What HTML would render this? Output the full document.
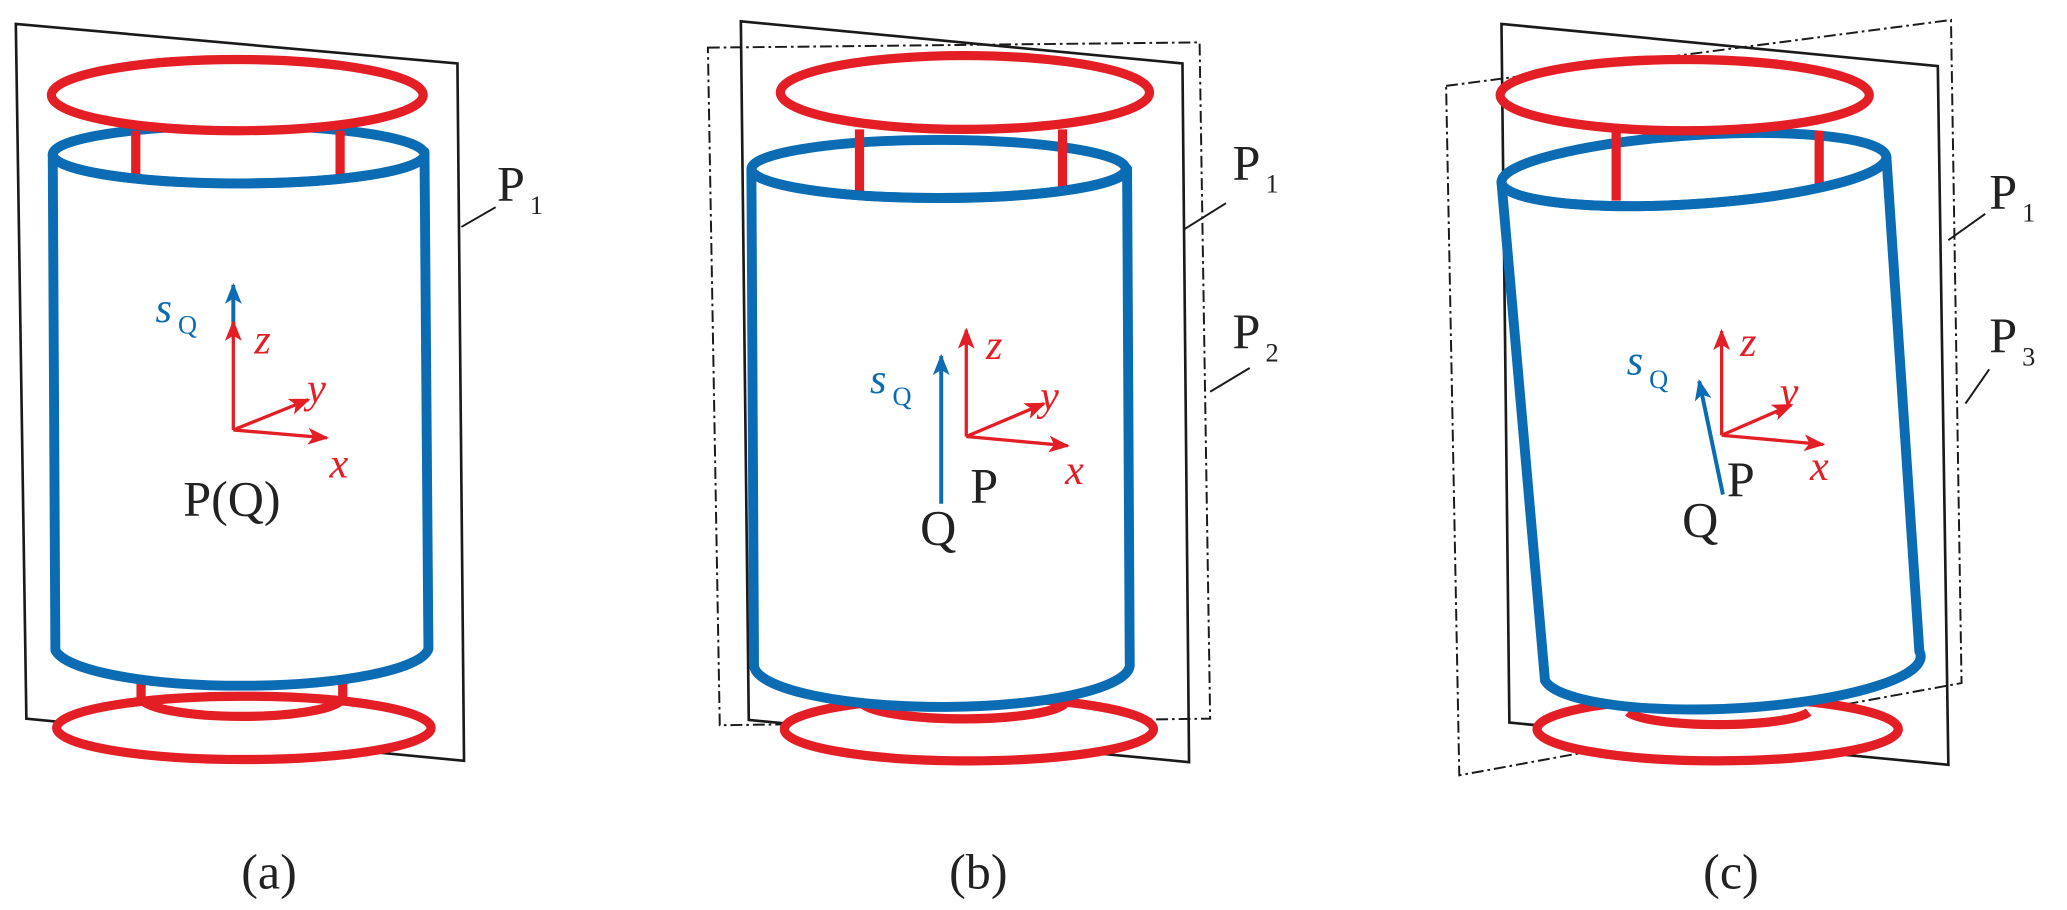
<!DOCTYPE html>
<html><head><style>html,body{margin:0;padding:0;background:#fff}svg{display:block}svg text{font-family:"Liberation Serif","DejaVu Serif",serif}</style></head>
<body>
<svg width="2067" height="910" viewBox="0 0 1568 690" xmlns="http://www.w3.org/2000/svg">
<defs>
<marker id="ar" viewBox="0 0 10 10" refX="9" refY="5" markerWidth="16" markerHeight="16" orient="auto" markerUnits="userSpaceOnUse"><path d="M0,1 L10,5 L0,9 L2.5,5z" fill="#e31e24"/></marker>
<marker id="ab" viewBox="0 0 10 10" refX="9" refY="5" markerWidth="16" markerHeight="16" orient="auto" markerUnits="userSpaceOnUse"><path d="M0,1 L10,5 L0,9 L2.5,5z" fill="#0b6cb3"/></marker>
</defs>
<style>
.pl{fill:none;stroke:#1a1a1a;stroke-width:2}
.dd{fill:none;stroke:#1a1a1a;stroke-width:1.5;stroke-dasharray:9 3 2 3}
.r{fill:none;stroke:#e31e24;stroke-width:7}
.rw{fill:#fff;stroke:#e31e24;stroke-width:7}
.b{fill:none;stroke:#0b6cb3;stroke-width:7.5;stroke-linejoin:round;stroke-linecap:round}
.wf{fill:#fff;stroke:none}
.ax{stroke:#e31e24;stroke-width:2.5;fill:none}
.sq{stroke:#0b6cb3;stroke-width:3;fill:none}
.lr{fill:#e31e24;font-style:italic;font-size:32px}
.lb{fill:#0b6cb3;font-style:italic;font-size:32px}
.lk{fill:#222;font-size:38px}
.ld{stroke:#1a1a1a;stroke-width:1.5}
</style>

<!-- Panel a -->
<polygon class="pl" points="12,18 347,48 352,577 20,545"/>
<ellipse class="rw" cx="185" cy="552" rx="142" ry="24"/>
<path class="r" d="M107,518 L107,530 A77,15 0 0 0 260,530 L260,518"/>
<path class="wf" d="M40,117 L42,493 A142,30 0 0 0 325,492 L322,115 Z"/>
<path class="b" d="M40,117 L42,493 A142,30 0 0 0 325,492 L322,115"/>
<ellipse class="b" cx="181" cy="117" rx="141" ry="22"/>
<ellipse class="rw" cx="180" cy="72" rx="141" ry="27"/>
<line class="r" x1="103" y1="99" x2="103" y2="138"/><line class="r" x1="258" y1="99" x2="258" y2="136"/>
<path class="b" d="M40,117 A141,22 0 0 0 322,117"/>
<line class="sq" x1="177" y1="250" x2="177" y2="216" marker-end="url(#ab)"/>
<line class="ax" x1="177" y1="326" x2="177" y2="244" marker-end="url(#ar)"/>
<line class="ax" x1="177" y1="326" x2="234" y2="303" marker-end="url(#ar)"/>
<line class="ax" x1="177" y1="326" x2="248" y2="332" marker-end="url(#ar)"/>
<text class="lb" x="118" y="244">s</text><text x="135" y="253" fill="#0b6cb3" font-size="20">Q</text>
<text class="lr" x="193" y="268">z</text><text class="lr" x="233" y="305">y</text><text class="lr" x="250" y="362">x</text>
<text class="lk" x="139" y="391">P(Q)</text>
<line class="ld" x1="350" y1="172" x2="376" y2="157"/>
<text class="lk" x="377" y="152">P</text><text x="402" y="162" fill="#222" font-size="20">1</text>
<text class="lk" x="183" y="674">(a)</text>

<!-- Panel b -->
<polygon class="pl" points="562,16 897,48 902,578 568,546"/>
<polygon class="dd" points="537,36 910,32 918,545 546,550"/>
<ellipse class="rw" cx="735" cy="553" rx="140" ry="24"/>
<path class="r" d="M656,528 L656,535 A78,14 0 0 0 806,535 L806,528"/>
<path class="wf" d="M570,128 L572,505 A142,32 0 0 0 857,503 L855,128 Z"/>
<path class="b" d="M570,128 L572,505 A142,32 0 0 0 857,503 L855,128"/>
<ellipse class="b" cx="712" cy="128" rx="142" ry="22"/>
<ellipse class="rw" cx="732" cy="70" rx="140" ry="28"/>
<line class="r" x1="652" y1="98" x2="652" y2="150"/><line class="r" x1="806" y1="98" x2="806" y2="146"/>
<path class="b" d="M570,128 A142,22 0 0 0 855,128"/>
<line class="sq" x1="714" y1="382" x2="714" y2="270" marker-end="url(#ab)"/>
<line class="ax" x1="733" y1="331" x2="733" y2="250" marker-end="url(#ar)"/>
<line class="ax" x1="733" y1="331" x2="792" y2="306" marker-end="url(#ar)"/>
<line class="ax" x1="733" y1="331" x2="810" y2="338" marker-end="url(#ar)"/>
<text class="lb" x="660" y="298">s</text><text x="677" y="307" fill="#0b6cb3" font-size="20">Q</text>
<text class="lr" x="748" y="272">z</text><text class="lr" x="789" y="311">y</text><text class="lr" x="808" y="367">x</text>
<text class="lk" x="736" y="381">P</text><text class="lk" x="698" y="413">Q</text>
<line class="ld" x1="898" y1="174" x2="930" y2="154"/>
<text class="lk" x="935" y="136">P</text><text x="960" y="146" fill="#222" font-size="20">1</text>
<line class="ld" x1="918" y1="297" x2="948" y2="279"/>
<text class="lk" x="935" y="264">P</text><text x="960" y="274" fill="#222" font-size="20">2</text>
<text class="lk" x="720" y="674">(b)</text>

<!-- Panel c -->
<polygon class="pl" points="1139,18 1470,50 1478,580 1145,548"/>
<polygon class="dd" points="1097,65 1480,15 1488,518 1107,588"/>
<ellipse class="rw" cx="1303" cy="553" rx="137" ry="24"/>
<path class="r" d="M1235,540 A70,12 0 0 0 1372,540"/>
<path class="wf" d="M1139,138 L1172,516 A142,32 -3 0 0 1456,494 L1431,119 Z"/>
<path class="b" d="M1139,138 L1172,516 A142,32 -3 0 0 1456,494 L1431,119"/>
<path class="b" d="M1139,138 A146,26 -3.75 0 1 1431,119 A146,26 -3.75 0 1 1139,138 Z"/>
<ellipse class="rw" cx="1278" cy="72" rx="140" ry="27"/>
<line class="r" x1="1226" y1="99" x2="1226" y2="152"/><line class="r" x1="1380" y1="99" x2="1380" y2="143"/>
<path class="b" d="M1139,138 A146,26 -3.75 0 0 1431,119"/>
<line class="sq" x1="1307" y1="375" x2="1289" y2="289" marker-end="url(#ab)"/>
<line class="ax" x1="1306" y1="330" x2="1306" y2="251" marker-end="url(#ar)"/>
<line class="ax" x1="1306" y1="330" x2="1359" y2="307" marker-end="url(#ar)"/>
<line class="ax" x1="1306" y1="330" x2="1383" y2="337" marker-end="url(#ar)"/>
<text class="lb" x="1234" y="284">s</text><text x="1251" y="294" fill="#0b6cb3" font-size="20">Q</text>
<text class="lr" x="1320" y="270">z</text><text class="lr" x="1350" y="308">y</text><text class="lr" x="1373" y="364">x</text>
<text class="lk" x="1310" y="376">P</text><text class="lk" x="1276" y="407">Q</text>
<line class="ld" x1="1478" y1="182" x2="1506" y2="162"/>
<text class="lk" x="1509" y="158">P</text><text x="1534" y="168" fill="#222" font-size="20">1</text>
<line class="ld" x1="1491" y1="306" x2="1509" y2="280"/>
<text class="lk" x="1509" y="267">P</text><text x="1534" y="277" fill="#222" font-size="20">3</text>
<text class="lk" x="1292" y="674">(c)</text>
</svg>
</body></html>
